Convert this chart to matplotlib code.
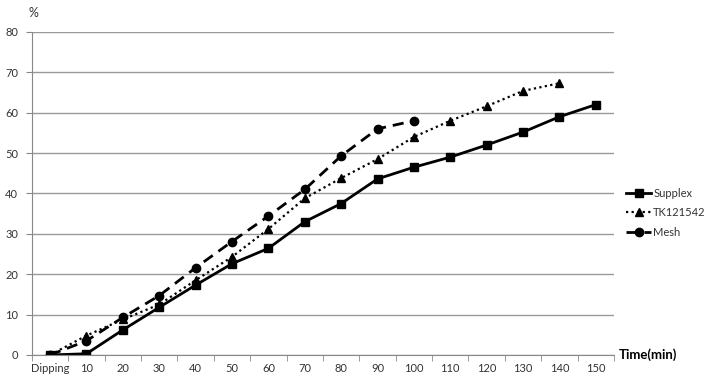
import matplotlib
matplotlib.use('Agg')
import matplotlib.pyplot as plt
import numpy as np

plt.rcParams['font.family'] = ['Lato', 'DejaVu Sans']

categories = ['Dipping', '10', '20', '30', '40', '50', '60', '70', '80',
              '90', '100', '110', '120', '130', '140', '150']
supplex = [0, 0.3, 6.2, 11.8, 17.3, 22.6, 26.4, 33.0, 37.5, 43.6,
           46.5, 49.0, 52.0, 55.2, 59.0, 62.0]
tk121542 = [0, 4.8, 8.8, 12.5, 18.5, 24.3, 31.2, 38.8, 43.8, 48.5,
            54.0, 58.0, 61.6, 65.4, 67.3]
mesh = [0, 3.5, 9.3, 14.7, 21.6, 28.1, 34.4, 41.0, 49.3, 56.0, 58.0]

fig = plt.figure(figsize=(7.09, 3.85), dpi=100)
ax = fig.add_axes([0.045, 0.078, 0.821, 0.839])

x = np.arange(len(categories))
ax.plot(x, supplex, color='black', linewidth=2, marker='s', markersize=6,
        label='Supplex')
ax.plot(x[:len(tk121542)], tk121542, color='black', linewidth=1.6,
        linestyle=(0, (1, 1.5)), marker='^', markersize=6, label='TK121542')
ax.plot(x[:len(mesh)], mesh, color='black', linewidth=2,
        linestyle=(0, (4, 2.5)), marker='o', markersize=6, label='Mesh')

ax.set_xlim(-0.5, len(categories) - 0.5)
ax.set_ylim(0, 80)
ax.set_yticks(np.arange(0, 81, 10))
ax.set_xticks(x)
ax.set_xticklabels(categories)
ax.set_xticks(np.arange(-0.5, len(categories), 1), minor=True)
ax.tick_params(axis='x', which='major', length=0, labelsize=8, pad=6,
               labelcolor='#333333')
ax.tick_params(axis='x', which='minor', length=4, color='#888888')
ax.tick_params(axis='y', length=4, color='#888888', labelsize=8, pad=6,
               labelcolor='#333333')

ax.grid(True, axis='y', color='#999999', linewidth=1)
ax.set_axisbelow(True)
for side in ['top', 'right']:
    ax.spines[side].set_visible(False)
ax.spines['left'].set_color('#888888')
ax.spines['bottom'].set_color('#888888')

fig.text(0.04, 0.965, '%', fontsize=9, ha='left', va='center', color='#333333')
fig.text(0.873, 0.078, 'Time(min)', fontsize=9.5, fontweight='bold',
         ha='left', va='center')

ax.legend(loc='center left', bbox_to_anchor=(1.01, 0.44), frameon=False,
          fontsize=8, handlelength=2.2, handletextpad=0.2, labelspacing=0.75,
          borderaxespad=0.2, labelcolor='#333333')

plt.savefig('out.png', dpi=100)
